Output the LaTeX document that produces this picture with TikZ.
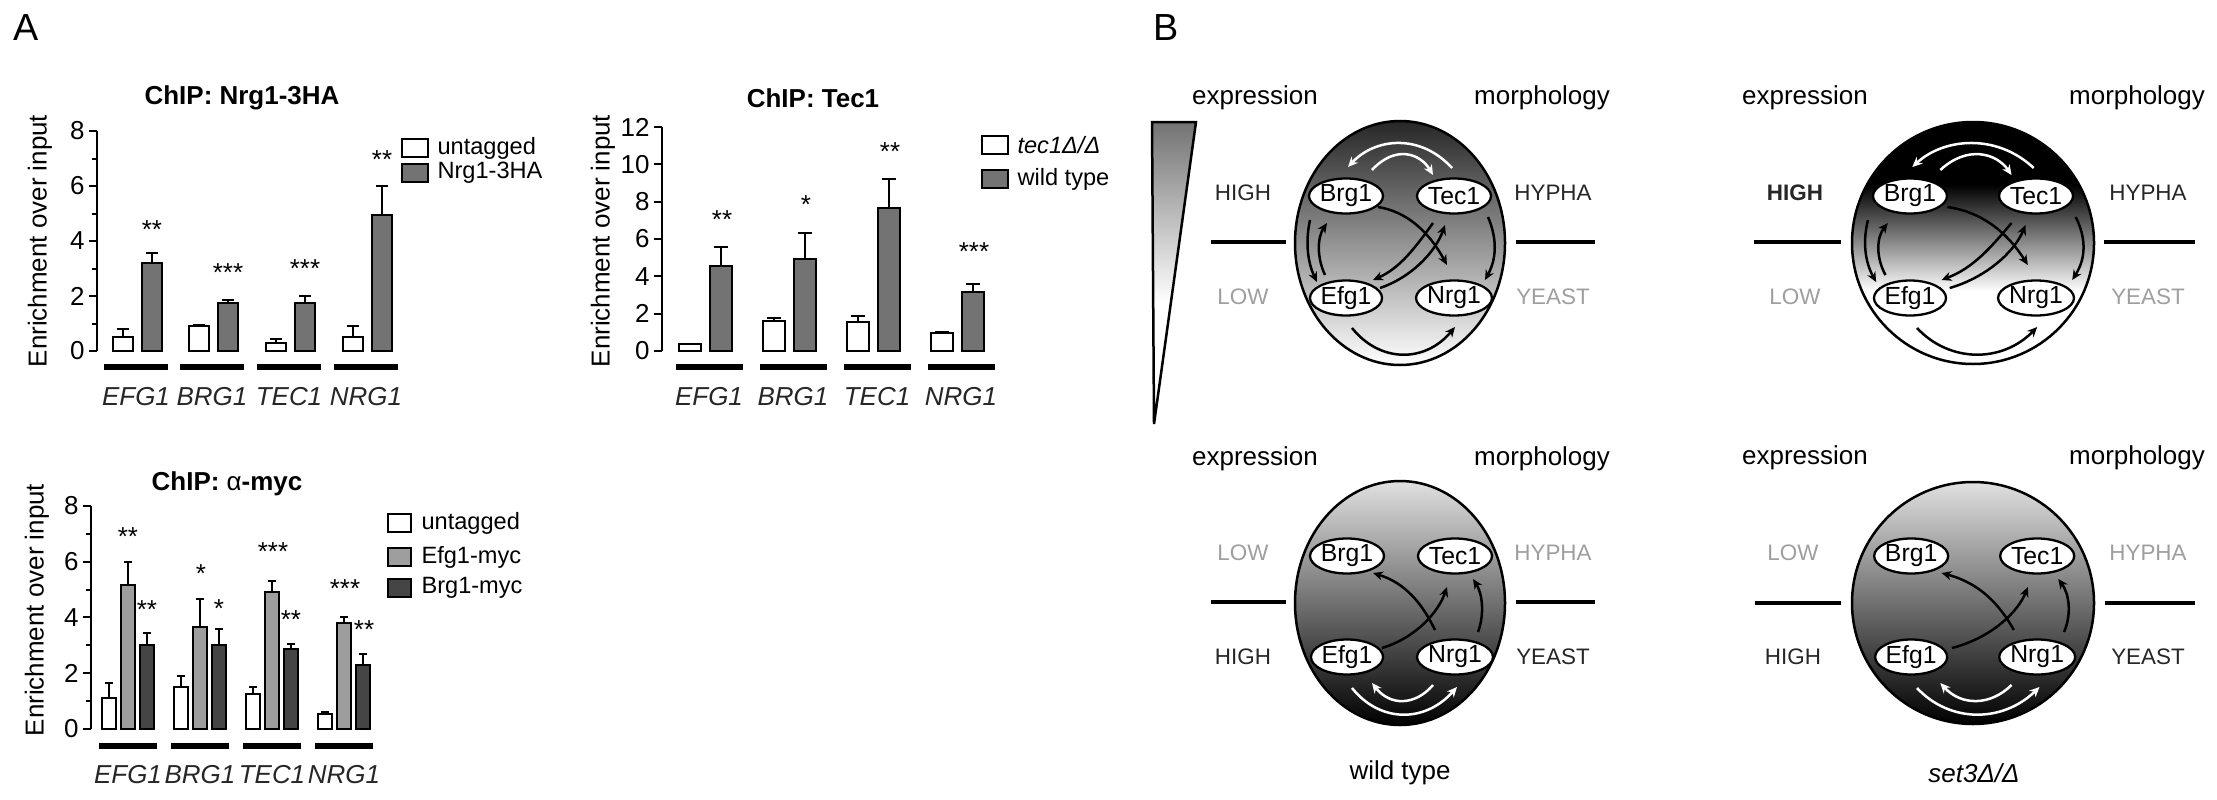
\documentclass[tikz,border=0pt]{standalone}
\usepackage{fontspec}
\setmainfont{Liberation Sans}
\usetikzlibrary{arrows.meta,shapes.geometric}
\definecolor{mg}{gray}{0.45}
\definecolor{lg}{gray}{0.62}
\definecolor{dg}{gray}{0.27}
\definecolor{tg}{gray}{0.62}
\newcommand\fs[1]{\fontsize{\fpeval{1.18*#1}pt}{\fpeval{1.18*#1}pt}\selectfont}
% left x, width, base y, px/unit, value, error, fill
\newcommand\cbar[7]{%
  \pgfmathsetmacro\ytop{#3-#4*#5}%
  \pgfmathsetmacro\yerr{#3-#4*(#5+#6)}%
  \pgfmathsetmacro\xm{#1+#2/2}%
  \pgfmathsetmacro\xa{#1+#2*0.2}%
  \pgfmathsetmacro\xb{#1+#2*0.8}%
  \draw[ax] (\xm,\ytop) -- (\xm,\yerr) (\xa,\yerr) -- (\xb,\yerr);
  \draw[ax,fill=#7] (#1,#3) rectangle (#1+#2,\ytop);
}
\begin{document}
\begin{tikzpicture}[x=1pt,y=-1pt,
  ax/.style={line width=2pt,black},
  ul/.style={line width=5.5pt},
  lbl/.style={font=\fs{22}},
  gene/.style={font=\fs{22}\itshape,text=black!85},
  ttl/.style={font=\fs{22}\bfseries},
  star/.style={font=\fs{22}},
  leg/.style={font=\fs{20},anchor=west},
  bl/.style={font=\fs{22}},
  gry/.style={font=\fs{19},text=tg},
  blk/.style={font=\fs{19},text=black!85},
  sep/.style={line width=4pt},
  gn/.style={ellipse,draw,line width=2.3pt,fill=white,minimum width=62pt,minimum height=35pt,inner sep=0pt,font=\fs{21}},
  ar/.style={line width=2.5pt,-{Stealth[length=10pt,width=9pt]}},
  war/.style={ar,white},
  cell/.style={line width=2.5pt,draw=black}
]
\useasboundingbox (0,0) rectangle (2217,800);
\node[font=\fs{32}] (pA) at (26,28) {A};
\node[font=\fs{32}] (pB) at (1166,28) {B};

% ---------- Chart 1 ----------
\node[ttl] (t1) at (242,98) {ChIP: Nrg1-3HA};
\node[lbl,rotate=90] (y1) at (40,241) {Enrichment over input};
\draw[ax] (97,351) -- (97,131);
\foreach \v in {0,2,4,6,8}{\draw[ax] (97,351-27.5*\v) -- +(-8,0);
  \node[lbl,anchor=east] at (88,351-27.5*\v) {\v};}
\foreach \v in {1,3,5,7}{\draw[ax] (97,351-27.5*\v) -- +(-5,0);}
\foreach \g/\a/\ea/\b/\eb/\n in {113/0.5/0.3/3.2/0.35/EFG1,189/0.9/0.05/1.75/0.1/BRG1,266/0.3/0.15/1.75/0.25/TEC1,343/0.5/0.4/4.95/1.05/NRG1}{
  \cbar{\g}{20}{351}{27.5}{\a}{\ea}{white}
  \cbar{\g+29}{20}{351}{27.5}{\b}{\eb}{mg}
  \draw[ul] (\g-9,367) -- (\g+55,367);
  \node[gene] at (\g+23,397) {\n};}
\node[star] at (152,230) {**};
\node[star] at (228,273) {***};
\node[star] at (305,269) {***};
\node[star] at (382,160) {**};
\draw[ax,fill=white] (402,139) rectangle (428,157);
\draw[ax,fill=mg] (402,164) rectangle (428,182);
\node[leg] at (434,148) {untagged};
\node[leg] at (434,173) {Nrg1-3HA};

% ---------- Chart 2 ----------
\node[ttl] (t2) at (813,98) {ChIP: Tec1};
\node[lbl,rotate=90] (y2) at (603,241) {Enrichment over input};
\draw[ax] (662,351) -- (662,127);
\foreach \v in {0,2,...,12}{\draw[ax] (662,351-18.67*\v) -- +(-8,0);
  \node[lbl,anchor=east] at (653,351-18.67*\v) {\v};}
\foreach \g/\a/\ea/\b/\eb/\n in {679/0.35/0.05/4.55/1.0/EFG1,763/1.6/0.15/4.95/1.35/BRG1,847/1.55/0.35/7.65/1.55/TEC1,931/0.95/0.05/3.15/0.45/NRG1}{
  \cbar{\g}{22}{351}{18.67}{\a}{\ea}{white}
  \cbar{\g+31}{22}{351}{18.67}{\b}{\eb}{mg}
  \draw[ul] (\g-3,367) -- (\g+64,367);
  \node[gene] at (\g+30,397) {\n};}
\node[star] at (722,220) {**};
\node[star] at (806,205) {*};
\node[star] at (890,152) {**};
\node[star] at (974,252) {***};
\draw[ax,fill=white] (982,136) rectangle (1008,154);
\draw[ax,fill=mg] (982,170) rectangle (1008,188);
\node[leg] at (1014,145) {\itshape tec1Δ/Δ};
\node[leg] at (1014,179) {wild type};

% ---------- Chart 3 ----------
\node[ttl] (t3) at (227,484) {ChIP: {\mdseries α}-myc};
\node[lbl,rotate=90] (y3) at (37,610) {Enrichment over input};
\draw[ax] (91,729) -- (91,506);
\foreach \v in {0,2,4,6,8}{\draw[ax] (91,729-27.9*\v) -- +(-8,0);
  \node[lbl,anchor=east] at (82,729-27.9*\v) {\v};}
\foreach \v in {1,3,5,7}{\draw[ax] (91,729-27.9*\v) -- +(-5,0);}
\foreach \g/\a/\ea/\b/\eb/\c/\ec/\n in {102/1.1/0.55/5.15/0.85/3.0/0.45/EFG1,174/1.5/0.4/3.65/1.0/3.0/0.6/BRG1,246/1.25/0.25/4.9/0.4/2.85/0.2/TEC1,318/0.55/0.05/3.8/0.2/2.3/0.4/NRG1}{
  \cbar{\g}{14}{729}{27.9}{\a}{\ea}{white}
  \cbar{\g+19}{14}{729}{27.9}{\b}{\eb}{lg}
  \cbar{\g+38}{14}{729}{27.9}{\c}{\ec}{dg}
  \draw[ul] (\g-3,746) -- (\g+55,746);
  \node[gene] at (\g+26,775) {\n};}
\node[star] at (128,537) {**};
\node[star] at (147,610) {**};
\node[star] at (201,574) {*};
\node[star] at (219,609) {*};
\node[star] at (273,552) {***};
\node[star] at (291,620) {**};
\node[star] at (345,589) {***};
\node[star] at (364,630) {**};
\draw[ax,fill=white] (388,514) rectangle (411,532);
\draw[ax,fill=lg] (388,548) rectangle (411,566);
\draw[ax,fill=dg] (388,579) rectangle (411,597);
\node[leg] at (418,523) {untagged};
\node[leg] at (418,557) {Efg1-myc};
\node[leg] at (418,588) {Brg1-myc};

% ---------- Panel B ----------
\pgfdeclareverticalshading{tri}{100bp}{color(0bp)=(white); color(45bp)=(white); color(75bp)=(black!55); color(100bp)=(black)}
\draw[line width=2.5pt,shading=tri]
  (1152,122) -- (1196,122) -- (1154,424) -- cycle;

% labels top row
\node[bl] at (1255,98) {expression};
\node[bl] at (1542,98) {morphology};
\node[blk] at (1243,193) {HIGH};
\node[gry] at (1243,297) {LOW};
\node[blk] at (1553,193) {HYPHA};
\node[gry] at (1553,297) {YEAST};
\draw[sep] (1211,242) -- (1286,242);
\draw[sep] (1516,242) -- (1595,242);
\node[bl] at (1805,98) {expression};
\node[bl] at (2137,98) {morphology};
\node[blk,font=\fs{19}\bfseries] at (1795,193) {HIGH};
\node[gry] at (1795,297) {LOW};
\node[blk] at (2148,193) {HYPHA};
\node[gry] at (2148,297) {YEAST};
\draw[sep] (1754,242) -- (1841,242);
\draw[sep] (2104,242) -- (2195,242);
% bottom row labels
\node[bl] at (1255,459) {expression};
\node[bl] at (1542,459) {morphology};
\node[gry] at (1243,553) {LOW};
\node[blk] at (1243,657) {HIGH};
\node[gry] at (1553,553) {HYPHA};
\node[blk] at (1553,657) {YEAST};
\draw[sep] (1211,602) -- (1286,602);
\draw[sep] (1516,602) -- (1595,602);
\node[bl] at (1805,458) {expression};
\node[bl] at (2137,458) {morphology};
\node[gry] at (1793,553) {LOW};
\node[blk] at (1793,657) {HIGH};
\node[gry] at (2148,553) {HYPHA};
\node[blk] at (2148,657) {YEAST};
\draw[sep] (1755,603) -- (1841,603);
\draw[sep] (2105,603) -- (2195,603);
\node[font=\fs{22}] (wt) at (1400,773) {wild type};
\node[font=\fs{22}] (st) at (1974,773) {\itshape set3Δ/Δ};

\pgfdeclareverticalshading{setthree}{100bp}{color(0bp)=(white); color(40bp)=(white); color(62bp)=(black); color(100bp)=(black)}

% top wild type
\shade[top color=black!85,bottom color=white,shading angle=0] (1400,243) ellipse [x radius=105,y radius=122];
\draw[cell] (1400,243) ellipse [x radius=105,y radius=122];
% top set3
\shade[shading=setthree] (1973,243) circle [radius=121];
\draw[cell] (1973,243) circle [radius=121];
% bottom
\shade[top color=black!12,bottom color=black] (1400,603) ellipse [x radius=105,y radius=122];
\draw[cell] (1400,603) ellipse [x radius=105,y radius=122];
\shade[top color=black!12,bottom color=black] (1973,603) circle [radius=121];
\draw[cell] (1973,603) circle [radius=121];

% top networks
\foreach \cx/\sx/\id in {1400/1/a,1973/1.167/b}{
\begin{scope}[shift={(\cx,243)},xscale=\sx]
  \draw[war] (52,-75) .. controls (20,-110) and (-25,-105) .. (-52,-76);
  \draw[war] (-28,-73) .. controls (-5,-98) and (20,-90) .. (33,-68);
  \draw[ar] (-22,-36) .. controls (15,-30) and (35,0) .. (47,22);
  \draw[ar] (33,-20) .. controls (15,5) and (0,25) .. (-27,37);
  \draw[ar] (-20,45) .. controls (10,35) and (35,10) .. (45,-18);
  \draw[ar] (-90,-23) .. controls (-95,0) and (-92,20) .. (-83,39);
  \draw[ar] (-75,32) .. controls (-83,15) and (-83,-5) .. (-73,-20);
  \draw[ar] (88,-26) .. controls (97,-5) and (97,15) .. (85,37);
  \draw[ar] (-48,85) .. controls (-20,120) and (25,120) .. (55,84);
  \node[gn] (brg\id) at (-54,-47) {Brg1};
  \node[gn] (tec\id) at (54,-47) {Tec1};
  \node[gn] (efg\id) at (-54,55) {Efg1};
  \node[gn] (nrg\id) at (54,55) {Nrg1};
\end{scope}}
% bottom networks
\foreach \cx/\sx/\id in {1400/1/c,1973/1.167/d}{
\begin{scope}[shift={(\cx,603)},xscale=\sx]
  \draw[ar] (-18,45) .. controls (15,35) and (38,10) .. (47,-16);
  \draw[ar] (35,27) .. controls (22,0) and (5,-20) .. (-27,-30);
  \draw[ar] (78,29) .. controls (85,10) and (82,-10) .. (73,-24);
  \draw[war] (-48,85) .. controls (-20,120) and (25,120) .. (57,84);
  \draw[war] (33,82) .. controls (15,103) and (-10,103) .. (-28,80);
  \node[gn] (brg\id) at (-53,-47) {Brg1};
  \node[gn] (tec\id) at (55,-47) {Tec1};
  \node[gn] (efg\id) at (-53,54) {Efg1};
  \node[gn] (nrg\id) at (55,54) {Nrg1};
\end{scope}}
\end{tikzpicture}
\end{document}
